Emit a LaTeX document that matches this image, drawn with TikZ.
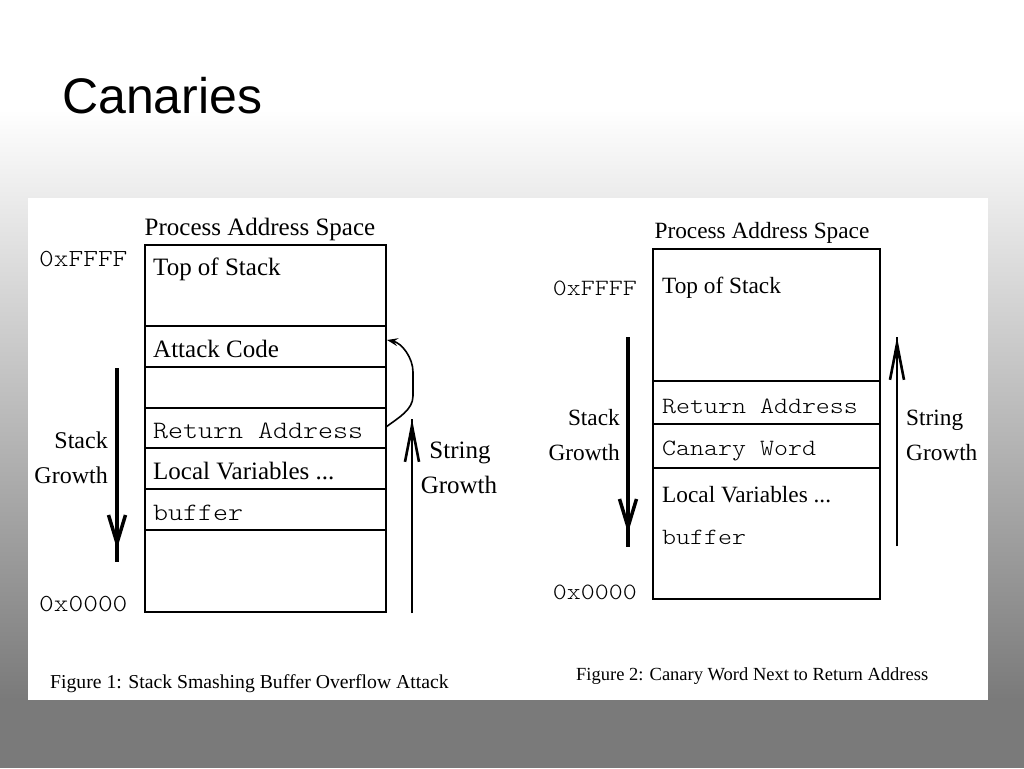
\documentclass[tikz,border=0pt]{standalone}
\usepackage{fontspec}
\setmainfont{Liberation Serif}
\setmonofont{lmmonolt10-regular.otf}[FakeStretch=1.143]
\newfontfamily\titlefont{Liberation Sans}
\usetikzlibrary{arrows.meta}
\definecolor{bgbot}{RGB}{122,122,122}
\tikzset{
  txt/.style={anchor=base west, inner sep=0pt, font=\fontsize{#1}{#1}\selectfont},
  txtc/.style={anchor=base, inner sep=0pt, font=\fontsize{#1}{#1}\selectfont},
  txte/.style={anchor=base east, inner sep=0pt, font=\fontsize{#1}{#1}\selectfont},
  mono/.style={anchor=base west, inner sep=0pt, font=\fontsize{#1}{#1}\selectfont\ttfamily},
  monoe/.style={anchor=base east, inner sep=0pt, font=\fontsize{#1}{#1}\selectfont\ttfamily},
  boxline/.style={line width=2.5pt},
  thinline/.style={line width=1.4pt},
  downshaft/.style={line width=3.5pt},
  downbarb/.style={line width=3.5pt, -{Straight Barb[length=28pt,width=17pt]}},
  upshaft/.style={line width=2.2pt},
  upbarb/.style={line width=2.6pt, -{Straight Barb[length=36pt,width=14pt]}},
  upfill/.style={line width=1pt, -{Stealth[length=24pt,width=6pt,inset=6pt]}},
}
\begin{document}
\begin{tikzpicture}[x=1pt,y=-1pt]
\useasboundingbox (0,0) rectangle (1024,768);
% background
\fill[white] (0,0) rectangle (1024,110);
\shade[top color=white, bottom color=bgbot] (0,109) rectangle (1024,700);
\fill[bgbot] (0,699) rectangle (1024,768);
\fill[white] (28,198) rectangle (988,700);
% title
\node[anchor=base west, inner sep=0pt, font=\fontsize{50}{50}\selectfont\titlefont] (title) at (62,113) {Canaries};

% ---------- Figure 1 ----------
\node[txtc=25] (pas1) at (260,235) {Process Address Space};
\draw[boxline] (145,245) rectangle (386,612);
\draw[boxline] (145,326) -- (386,326);
\draw[thinline] (145,367) -- (386,367);
\draw[boxline] (145,408) -- (386,408);
\draw[thinline] (145,448) -- (386,448);
\draw[boxline] (145,489) -- (386,489);
\draw[boxline] (145,530) -- (386,530);
\node[txt=25] (tos1) at (153,275) {Top of Stack};
\node[txt=25] (ac1) at (153,357) {Attack Code};
\node[mono=25] (ra1) at (153,438) {Return Address};
\node[txt=25] (lv1) at (153,479) {Local Variables ...};
\node[mono=25] (buf1) at (153,520) {buffer};
\node[mono=24.5] (hi1) at (39,266) {0xFFFF};
\node[mono=24.5] (lo1) at (39,611) {0x0000};
\node[txte=24] (sg1a) at (108,448) {Stack};
\node[txte=24] (sg1b) at (108,483) {Growth};
\node[txtc=25] (st1a) at (460,458) {String};
\node[txtc=25] (st1b) at (459,493) {Growth};
\coordinate (sd1s) at (117,368);
\coordinate (sd1b) at (117,549);
\coordinate (sd1e) at (117,562);
\draw[downshaft] (sd1s) -- (sd1e);
\draw[downbarb] (sd1s) -- (sd1b);
\coordinate (su1s) at (412,613);
\coordinate (su1e) at (412,419);
\draw[upshaft] (su1s) -- (su1e);
\draw[upbarb] (su1s) -- (su1e);
\draw[upfill] (su1s) -- (su1e);
\coordinate (cv1s) at (386,427);
\coordinate (cv1e) at (387,340);
\draw[line width=1.6pt, -{Stealth[length=11pt,width=8pt,inset=4pt]}]
  (cv1s) .. controls (398,418) and (413,410) .. (413,396) -- (413,372)
  .. controls (413,358) and (402,343) .. (cv1e);
\node[txt=19.7] (cap1) at (50,688) {Figure 1: Stack Smashing Buffer Overflow Attack};

% ---------- Figure 2 ----------
\node[txtc=23.3] (pas2) at (762,238) {Process Address Space};
\draw[boxline] (653,249) rectangle (880,599);
\draw[thinline] (653,381) -- (880,381);
\draw[boxline] (653,424) -- (880,424);
\draw[thinline] (653,468) -- (880,468);
\node[txt=23.3] (tos2) at (662,293) {Top of Stack};
\node[mono=23.3] (ra2) at (662,413) {Return Address};
\node[mono=23.3] (cw2) at (662,455) {Canary Word};
\node[txt=23.3] (lv2) at (662,502) {Local Variables ...};
\node[mono=23.3] (buf2) at (662,544) {buffer};
\node[monoe=23.3] (hi2) at (637,295) {0xFFFF};
\node[monoe=23.3] (lo2) at (637,599) {0x0000};
\node[txte=23.3] (sg2a) at (620,425) {Stack};
\node[txte=23.3] (sg2b) at (620,460) {Growth};
\node[txt=23.3] (st2a) at (906,425) {String};
\node[txt=23.3] (st2b) at (906,460) {Growth};
\coordinate (sd2s) at (628,337);
\coordinate (sd2b) at (628,533);
\coordinate (sd2e) at (628,547);
\draw[downshaft] (sd2s) -- (sd2e);
\draw[downbarb] (sd2s) -- (sd2b);
\coordinate (su2s) at (897,546);
\coordinate (su2e) at (897,337);
\draw[upshaft] (su2s) -- (su2e);
\draw[upbarb] (su2s) -- (su2e);
\draw[upfill] (su2s) -- (su2e);
\node[txt=18.5] (cap2) at (576,680) {Figure 2: Canary Word Next to Return Address};
\end{tikzpicture}
\end{document}
